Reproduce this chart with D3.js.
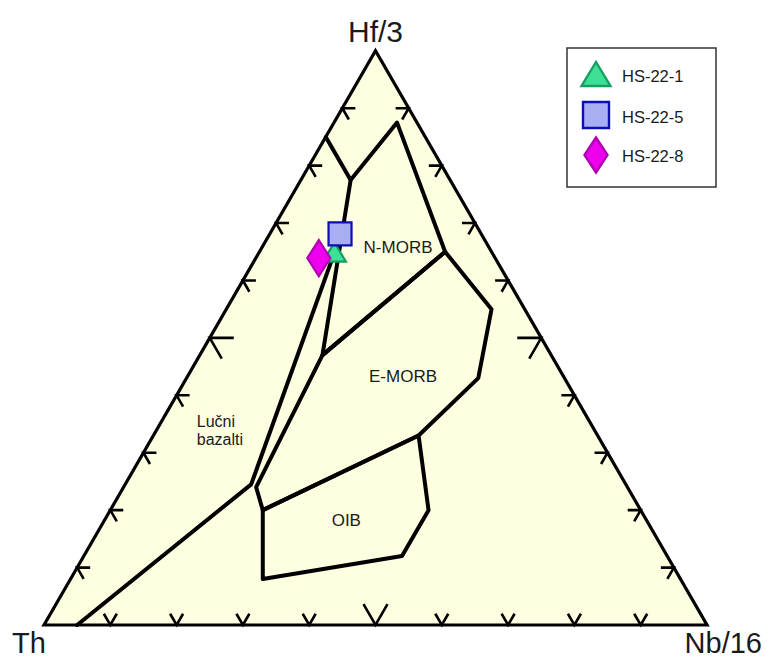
<!DOCTYPE html>
<html>
<head>
<meta charset="utf-8">
<script src="https://cdn.jsdelivr.net/npm/d3@7"></script>
<style>
  html, body { margin: 0; padding: 0; background: #ffffff; }
  svg { display: block; }
  text { font-family: "Liberation Sans", Arial, Helvetica, sans-serif; fill: #1a1a1a; }
</style>
</head>
<body>
<svg id="chart" width="767" height="660"></svg>
<script>
// Hf/3 - Th - Nb/16 discrimination diagram (compositions as [Th, Hf/3, Nb/16] fractions)
const apexLabels = ["Th", "Hf/3", "Nb/16"];
const tickValues = [0.1, 0.2, 0.3, 0.4, 0.5, 0.6, 0.7, 0.8, 0.9];

// field boundaries
const splitLine   = [[0.15, 0.85, 0.00], [0.15, 0.775, 0.075]];
const nMorbField  = [[0.15, 0.775, 0.075], [0.03, 0.875, 0.095], [0.07, 0.65, 0.28], [0.345, 0.47, 0.185], [0.15, 0.775, 0.075]];
const eMorbField  = [[0.345, 0.47, 0.185], [0.07, 0.65, 0.28], [0.05, 0.55, 0.40], [0.13, 0.43, 0.44], [0.27, 0.33, 0.40], [0.57, 0.20, 0.23], [0.56, 0.24, 0.20], [0.345, 0.47, 0.185]];
const oibField    = [[0.57, 0.20, 0.23], [0.27, 0.33, 0.40], [0.32, 0.20, 0.48], [0.40, 0.12, 0.48], [0.63, 0.08, 0.29], [0.57, 0.20, 0.23]];
const arcLine     = [[0.95, 0.00, 0.05], [0.565, 0.245, 0.19], [0.20, 0.695, 0.105]];

// field labels: text lines and position as [Th, Hf/3, Nb/16]
const fieldLabels = [
  { lines: ["N-MORB"], at: [0.142, 0.648, 0.21], anchor: "middle", size: 17 },
  { lines: ["E-MORB"], at: [0.247, 0.423, 0.33], anchor: "middle", size: 17 },
  { lines: ["OIB"], at: [0.458, 0.172, 0.37], anchor: "middle", size: 17 },
  { lines: ["Lučni", "bazalti"], at: [0.597, 0.345, 0.058], anchor: "start", size: 16 }
];

// samples
const sampleNames  = ["HS-22-1", "HS-22-5", "HS-22-8"];
const sampleValues = [[0.24, 0.644, 0.116], [0.213, 0.681, 0.106], [0.266, 0.639, 0.095]];
const sampleShapes = ["triangle", "square", "diamond"];
const sampleFills  = ["#3fdf95", "#a9adf2", "#ee00ee"];
const sampleStrokes = ["#14a063", "#0c10b4", "#b000b0"];

const svg = d3.select("#chart");

// ternary projection through two linear scales
const xScale = d3.scaleLinear().domain([0, 1]).range([44, 707]);
const yScale = d3.scaleLinear().domain([0, 1]).range([625, 50.8]);
const proj = c => {
  const s = c[0] + c[1] + c[2];
  const hf = c[1] / s, nb = c[2] / s;
  return [xScale(nb + hf / 2), yScale(hf)];
};

const line = d3.line();

// outer triangle
const corners = [[1, 0, 0], [0, 1, 0], [0, 0, 1]];
svg.append("path")
  .attr("d", line(corners.map(proj)) + "Z")
  .attr("fill", "#fefee0")
  .attr("stroke", "#000")
  .attr("stroke-width", 3.2)
  .attr("stroke-linejoin", "miter");

// ticks (chevrons pointing outward from each edge)
const c60 = Math.cos(Math.PI / 3), s60 = Math.sin(Math.PI / 3);
const edges = [
  { pt: f => [1 - f, 0, f], arms: [[-c60, -s60], [c60, -s60]] },     // Th - Nb/16
  { pt: f => [1 - f, f, 0], arms: [[1, 0], [c60, s60]] },            // Th - Hf/3
  { pt: f => [0, f, 1 - f], arms: [[-1, 0], [-c60, s60]] }           // Hf/3 - Nb/16
];
const tickG = svg.append("g").attr("stroke", "#000").attr("fill", "none")
  .attr("stroke-width", 2.6).attr("stroke-linecap", "butt").attr("stroke-linejoin", "miter");
edges.forEach(e => {
  tickValues.forEach(f => {
    const [x, y] = proj(e.pt(f));
    const len = Math.abs(f - 0.5) < 1e-9 ? 24 : 13;
    const a = e.arms[0], b = e.arms[1];
    tickG.append("path").attr("d",
      line([[x + a[0] * len, y + a[1] * len], [x, y], [x + b[0] * len, y + b[1] * len]]));
  });
});

// field boundaries
const fieldG = svg.append("g").attr("fill", "none").attr("stroke", "#000")
  .attr("stroke-width", 4).attr("stroke-linejoin", "round").attr("stroke-linecap", "round");
[splitLine, nMorbField, eMorbField, oibField, arcLine].forEach(poly => {
  fieldG.append("path").attr("d", line(poly.map(proj)));
});

// field labels
fieldLabels.forEach(l => {
  const [x, y] = proj(l.at);
  const t = svg.append("text").attr("x", x).attr("y", y)
    .attr("text-anchor", l.anchor).attr("font-size", l.size);
  l.lines.forEach((s, i) => {
    t.append("tspan").attr("x", x).attr("dy", i === 0 ? 0 : l.size * 1.15).text(s);
  });
});

// corner labels
const [thX, thY] = proj([1, 0, 0]);
const [hfX, hfY] = proj([0, 1, 0]);
const [nbX, nbY] = proj([0, 0, 1]);
svg.append("text").attr("x", thX - 32).attr("y", thY + 28).attr("font-size", 29).text(apexLabels[0]);
svg.append("text").attr("x", hfX).attr("y", hfY - 9).attr("text-anchor", "middle").attr("font-size", 30).text(apexLabels[1]);
svg.append("text").attr("x", nbX + 55).attr("y", nbY + 28).attr("text-anchor", "end").attr("font-size", 29).text(apexLabels[2]);

// symbol builders
function symbolPath(shape, w, h) {
  if (shape === "triangle") {
    const r = w / (2 * Math.sqrt(3));
    return { d: d3.symbol(d3.symbolTriangle, r * r * 3 * Math.sqrt(3))(), sx: 1, sy: h / (3 * r) };
  }
  if (shape === "square") {
    return { d: d3.symbol(d3.symbolSquare, w * h)(), sx: 1, sy: 1 };
  }
  const yy = h / 2;
  const size = yy * yy * 2 * Math.tan(Math.PI / 6);
  const natW = 2 * yy * Math.tan(Math.PI / 6);
  return { d: d3.symbol(d3.symbolDiamond, size)(), sx: w / natW, sy: 1 };
}
const plotSizes = [[23, 19], [23, 23], [23, 36]];
const legendSizes = [[29, 24], [26, 26], [23, 35]];

// sample markers
const markG = svg.append("g");
sampleValues.forEach((v, i) => {
  const [x, y] = proj(v);
  const p = symbolPath(sampleShapes[i], plotSizes[i][0], plotSizes[i][1]);
  markG.append("path").attr("d", p.d)
    .attr("transform", `translate(${x},${y}) scale(${p.sx},${p.sy})`)
    .attr("fill", sampleFills[i]).attr("stroke", sampleStrokes[i]).attr("stroke-width", 2.2)
    .attr("vector-effect", "non-scaling-stroke");
});

// legend
const legend = svg.append("g");
legend.append("rect").attr("x", 567).attr("y", 48).attr("width", 149).attr("height", 139)
  .attr("fill", "#fff").attr("stroke", "#333").attr("stroke-width", 1.5);
const legendY = [78, 115, 155];
sampleNames.forEach((name, i) => {
  const p = symbolPath(sampleShapes[i], legendSizes[i][0], legendSizes[i][1]);
  legend.append("path").attr("d", p.d)
    .attr("transform", `translate(596,${legendY[i]}) scale(${p.sx},${p.sy})`)
    .attr("fill", sampleFills[i]).attr("stroke", sampleStrokes[i]).attr("stroke-width", 2.4)
    .attr("vector-effect", "non-scaling-stroke");
  legend.append("text").attr("x", 622).attr("y", [81.5, 122.5, 161.5][i])
    .attr("font-size", 16.5).text(name);
});
</script>
</body>
</html>
